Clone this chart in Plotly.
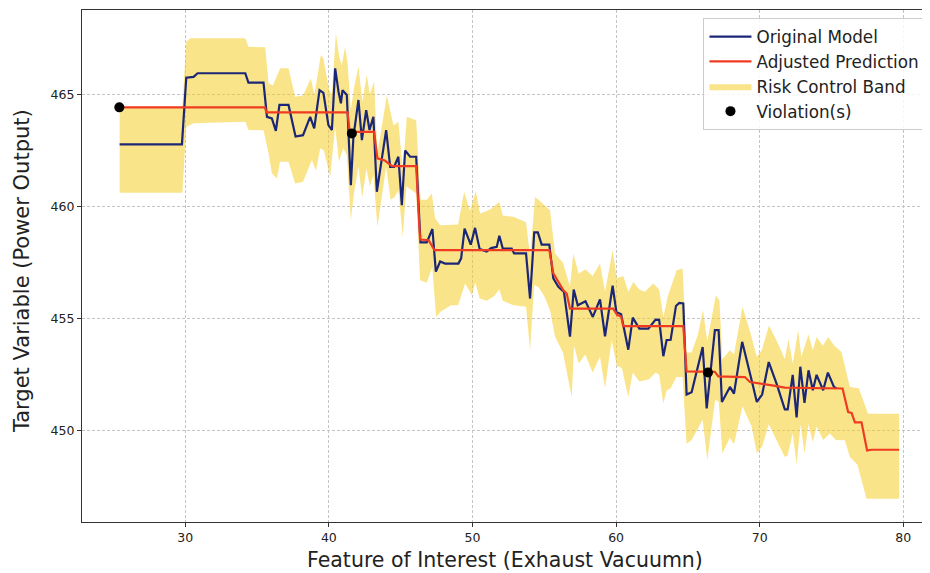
import plotly.graph_objects as go

# Original model (blue)
orig_x = [25.43, 29.77, 30.07, 30.58, 30.86, 34.18, 34.4, 35.45, 35.69, 36.03, 36.31, 36.56, 37.19, 37.68, 38.2, 38.7, 38.98,
          39.35, 39.62, 39.97, 40.21, 40.44, 40.67, 40.84, 40.95, 41.25, 41.53, 41.71, 42.06, 42.3, 42.6, 42.83, 43.1,
          43.34, 43.99, 44.27, 44.54, 44.84, 45.08, 45.31, 45.66, 46.08, 46.38, 46.82, 47.21, 47.45, 47.75, 48.09, 49.02,
          49.21, 49.45, 49.88, 50.18, 50.5, 50.99, 51.3, 51.69, 51.87, 52.11, 52.73, 52.9, 53.73, 54.01, 54.3, 54.55,
          54.82, 55.35, 55.63, 55.98, 56.37, 56.79, 57.05, 57.33, 57.87, 58.38, 58.88, 59.23, 59.76, 60.02, 60.35, 60.85,
          61.16, 61.62, 62.25, 62.75, 63.0, 63.29, 63.52, 63.8, 64.17, 64.4, 64.68, 64.91, 65.26, 66.03, 66.31, 66.88,
          67.14, 67.37, 67.93, 68.21, 68.78, 69.44, 69.8, 70.17, 70.63, 71.18, 71.75, 71.95, 72.3, 72.57, 72.83, 73.12,
          73.4, 73.7, 73.96, 74.42, 74.75, 75.17, 75.35]
orig_y = [462.77, 462.77, 465.74, 465.78, 465.94, 465.94, 465.52, 465.52, 464.0, 463.93, 463.37, 464.53, 464.53, 463.12, 463.18,
          464.0, 463.48, 465.19, 465.07, 463.63, 463.41, 466.16, 465.12, 464.6, 465.19, 464.97, 460.95, 463.11, 464.75,
          462.96, 464.3, 463.41, 464.0, 460.66, 463.41, 461.77, 461.77, 462.22, 460.06, 462.5, 462.22, 462.22, 458.4,
          458.4, 459.0, 457.1, 457.55, 457.46, 457.46, 457.69, 459.02, 458.3, 459.05, 458.1, 458.0, 458.15, 458.2, 458.7,
          458.13, 458.13, 457.91, 457.91, 455.9, 458.85, 458.85, 458.3, 458.3, 456.8, 456.42, 456.2, 454.2, 456.3, 455.6,
          455.78, 455.08, 455.86, 454.22, 456.47, 455.3, 455.2, 453.62, 455.05, 454.56, 454.56, 454.96, 454.95, 453.33,
          454.05, 454.06, 455.57, 455.7, 455.68, 451.62, 451.72, 453.74, 451.0, 454.49, 454.49, 451.29, 451.96, 451.66,
          453.97, 452.26, 451.29, 451.62, 453.07, 452.1, 450.96, 450.96, 452.5, 450.6, 452.86, 451.25, 452.7, 451.81,
          452.5, 451.81, 452.6, 451.96, 451.9]

# Adjusted prediction (red)
adj_x = [25.43, 35.55, 35.65, 41.3, 41.45, 43.15, 43.38, 43.9, 44.4, 46.08, 46.35, 46.95, 47.35, 55.35, 55.63, 56.0,
         56.33, 56.56, 56.79, 59.8, 60.08, 60.35, 60.5, 64.68, 64.91, 66.88, 67.12, 68.97, 69.32, 70.87, 71.75, 75.77,
         76.16, 76.4, 76.63, 77.09, 77.48, 77.78, 79.71]
adj_y = [464.42, 464.42, 464.2, 464.2, 463.33, 463.33, 462.15, 462.05, 461.8, 461.8, 458.53, 458.5, 458.06, 458.06, 457.02,
         456.6, 456.27, 456.12, 455.45, 455.45, 455.16, 455.1, 454.67, 454.67, 452.65, 452.63, 452.43, 452.4, 452.18,
         452.03, 451.93, 451.89, 450.84, 450.8, 450.38, 450.38, 449.13, 449.16, 449.16]

# Risk control band
band_up_x = [25.43, 29.8, 30.07, 30.35, 34.18, 34.4, 35.57, 35.8, 36.1, 36.61, 37.19, 37.65, 38.2, 38.74, 39.0, 39.44,
             39.62, 40.02, 40.21, 40.49, 40.72, 40.9, 41.13, 41.3, 41.53, 41.75, 42.06, 42.34, 42.64, 42.85, 43.15, 43.38,
             44.04, 44.5, 44.84, 45.15, 45.43, 46.08, 46.38, 46.82, 47.17, 47.4, 47.75, 48.5, 49.0, 49.42, 49.83, 50.23,
             50.53, 51.0, 51.3, 51.87, 52.11, 52.85, 53.73, 54.01, 54.36, 54.6, 55.4, 55.75, 56.3, 56.79, 57.02, 57.4,
             57.85, 58.37, 58.88, 59.23, 59.76, 60.05, 60.5, 60.85, 61.2, 61.62, 62.0, 62.59, 63.0, 63.29, 63.6, 64.22,
             64.63, 64.91, 65.26, 65.7, 66.05, 66.35, 66.95, 67.2, 67.4, 67.93, 68.21, 68.8, 69.3, 69.8, 70.15, 70.65,
             71.2, 71.75, 72.0, 72.3, 72.68, 72.9, 73.15, 73.4, 73.7, 73.96, 74.4, 74.77, 75.2, 75.7, 76.28, 76.9, 77.55,
             79.71]
band_up_y = [464.45, 464.45, 467.35, 467.5, 467.5, 467.12, 467.1, 465.49, 465.4, 466.16, 466.16, 464.89, 464.95, 465.71,
             465.0, 466.75, 466.6, 465.19, 465.0, 467.72, 466.68, 466.3, 467.12, 466.4, 464.3, 465.3, 466.23, 464.67,
             465.86, 465.0, 465.56, 462.37, 464.97, 463.6, 463.78, 461.62, 464.0, 463.85, 460.3, 460.3, 460.58, 459.47,
             459.17, 459.2, 459.2, 460.66, 459.8, 460.69, 459.69, 459.8, 459.9, 460.21, 459.6, 459.54, 459.3, 457.8,
             460.43, 460.3, 459.84, 457.91, 457.5, 456.42, 457.9, 457.0, 457.2, 456.9, 457.46, 456.2, 458.06, 456.8,
             456.9, 456.2, 456.64, 456.3, 456.2, 456.57, 456.3, 455.08, 456.0, 457.16, 457.24, 453.5, 453.5, 454.3,
             455.38, 454.0, 456.05, 455.8, 453.2, 453.6, 453.4, 455.53, 454.5, 453.3, 453.6, 454.7, 454.0, 453.2, 454.1,
             453.0, 454.49, 453.3, 453.8, 454.3, 453.6, 454.19, 453.8, 454.19, 453.8, 453.52, 451.96, 451.9, 450.77,
             450.77]
band_lo_x = [25.43, 29.8, 30.07, 30.58, 34.18, 34.4, 35.45, 35.8, 36.03, 36.38, 36.6, 37.19, 37.65, 38.2, 38.82, 39.1,
             39.4, 39.65, 40.09, 40.44, 40.7, 41.0, 41.25, 41.53, 41.75, 42.06, 42.32, 42.62, 42.85, 43.1, 43.38, 43.99,
             44.3, 44.55, 44.84, 45.15, 45.4, 46.08, 46.35, 46.82, 47.2, 47.47, 47.75, 48.5, 49.0, 49.49, 49.95, 50.2,
             50.5, 51.0, 51.5, 51.87, 52.11, 52.85, 53.73, 54.01, 54.3, 54.6, 55.0, 55.4, 55.75, 56.3, 56.91, 57.07,
             57.4, 57.85, 58.37, 58.88, 59.23, 59.69, 60.05, 60.4, 60.85, 61.16, 61.62, 62.3, 62.75, 63.0, 63.29, 63.52,
             63.8, 64.2, 64.63, 64.91, 65.26, 66.03, 66.35, 66.9, 67.15, 67.4, 67.93, 68.21, 68.8, 69.44, 69.8, 70.17,
             70.63, 71.18, 71.75, 71.95, 72.3, 72.57, 72.85, 73.12, 73.4, 73.7, 73.96, 74.42, 74.89, 75.3, 75.93, 76.28,
             76.8, 77.44, 79.71]
band_lo_y = [460.61, 460.61, 463.56, 463.71, 463.78, 463.41, 463.4, 462.37, 461.48, 461.25, 462.0, 462.0, 461.03, 461.1,
             462.07, 461.6, 462.6, 462.5, 461.33, 463.56, 462.0, 462.6, 462.3, 459.39, 460.6, 461.77, 460.4, 461.7,
             460.9, 461.4, 459.1, 461.77, 460.3, 460.4, 460.73, 458.65, 460.9, 460.58, 456.72, 456.6, 457.3, 455.08,
             455.3, 455.6, 455.6, 456.57, 456.05, 456.6, 455.9, 455.8, 456.0, 456.3, 455.8, 455.6, 455.53, 453.6, 456.5,
             456.4, 456.0, 455.38, 454.2, 453.5, 451.51, 453.8, 453.0, 453.4, 452.6, 453.3, 451.9, 454.04, 452.9, 452.8,
             451.51, 452.6, 452.2, 452.3, 452.6, 452.5, 451.22, 451.8, 451.9, 452.4, 452.4, 449.43, 449.6, 450.5,
             448.69, 451.4, 451.3, 449.0, 449.7, 449.4, 451.1, 450.2, 449.0, 449.3, 450.3, 449.6, 448.84, 448.9, 449.9,
             448.5, 450.3, 449.0, 450.3, 449.5, 450.2, 449.6, 449.88, 449.6, 449.58, 448.84, 448.5, 446.98, 446.98]

# Violations
viol_x = [25.41, 41.6, 66.4]
viol_y = [464.42, 463.26, 452.6]

x_ticks = [30, 40, 50, 60, 70, 80]
y_ticks = [450, 455, 460, 465]

FONT = "DejaVu Sans, Liberation Sans, sans-serif"

fig = go.Figure()
fig.add_trace(go.Scatter(
    x=band_up_x + band_lo_x[::-1], y=band_up_y + band_lo_y[::-1],
    fill="toself", fillcolor="rgba(245,205,40,0.55)", line=dict(width=0),
    mode="lines", name="Risk Control Band", legendrank=3, hoverinfo="skip"))
fig.add_trace(go.Scatter(x=orig_x, y=orig_y, mode="lines", name="Original Model",
                         line=dict(color="#1c2677", width=2.2), legendrank=1))
fig.add_trace(go.Scatter(x=adj_x, y=adj_y, mode="lines", name="Adjusted Prediction",
                         line=dict(color="#ee3b22", width=2.2), legendrank=2))
fig.add_trace(go.Scatter(x=viol_x, y=viol_y, mode="markers", name="Violation(s)",
                         marker=dict(color="black", size=10), legendrank=4))

axis_common = dict(showline=True, linecolor="#333333", linewidth=1.2, mirror=True,
                   ticks="outside", ticklen=4, tickcolor="#333333", automargin=False,
                   showgrid=True, gridcolor="#c4c4c4", gridwidth=0.7, griddash="3px,2px",
                   zeroline=False, tickfont=dict(size=12.5, color="#222222", family=FONT))

fig.update_xaxes(range=[22.81, 81.72], tickvals=x_ticks, ticktext=[str(v) for v in x_ticks], **axis_common)
fig.update_yaxes(range=[445.94, 468.76], tickvals=y_ticks, ticktext=[str(v) for v in y_ticks], **axis_common)

fig.add_annotation(text="Feature of Interest (Exhaust Vacuumn)", xref="paper", yref="paper", x=0.5, y=0,
                   xanchor="center", yanchor="middle", yshift=-38, showarrow=False,
                   font=dict(size=20.5, color="#222222", family=FONT))
fig.add_annotation(text="Target Variable (Power Output)", xref="paper", yref="paper", x=0, y=0.49,
                   xanchor="center", yanchor="middle", xshift=-60, textangle=-90, showarrow=False,
                   font=dict(size=21, color="#222222", family=FONT))

fig.update_layout(
    width=922, height=565,
    margin=dict(l=74, r=2, t=2, b=51, autoexpand=False),
    plot_bgcolor="white", paper_bgcolor="white",
    font=dict(family=FONT, color="#222222"),
    legend=dict(x=0.997, y=0.984, xanchor="right", yanchor="top",
                bgcolor="rgba(255,255,255,0.85)", bordercolor="#cccccc", borderwidth=1,
                font=dict(size=16.8, color="#222222", family=FONT), itemwidth=42),
    showlegend=True,
)

fig.write_html("out.html")
